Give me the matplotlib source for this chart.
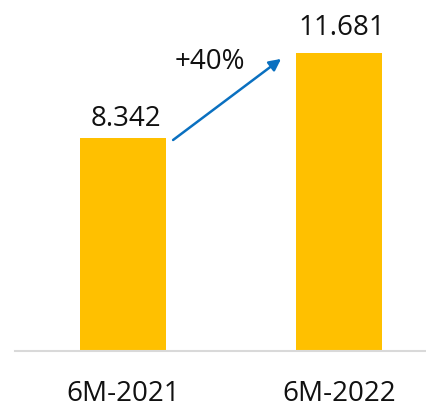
import matplotlib
matplotlib.use("Agg")
import matplotlib.pyplot as plt

# Data
periods = ["6M-2021", "6M-2022"]
values = [8.342, 11.681]
value_labels = ["8.342", "11.681"]

plt.rcParams["font.family"] = ["Open Sans", "DejaVu Sans"]

W, H, DPI = 426, 405, 100
fig = plt.figure(figsize=(W / DPI, H / DPI), dpi=DPI)
ax = fig.add_axes([15 / W, (H - 351) / H, 411 / W, 351 / H])

x = list(range(len(values)))
ax.bar(x, values, width=0.4, color="#FFC000", zorder=2)

ax.set_xlim(-0.5, 1.403)
ax.set_ylim(0, 13.76)

for s in ["top", "left", "right"]:
    ax.spines[s].set_visible(False)
ax.spines["bottom"].set_color("#D9D9D9")
ax.spines["bottom"].set_linewidth(1.5)
ax.set_yticks([])
ax.set_xticks(x)
ax.set_xticklabels(periods, fontsize=20, color="#111111")
ax.tick_params(axis="x", length=0, pad=21)

# Value labels above bars
offsets = [(2, 8.6), (2, 13)]
for xi, v, lab, off in zip(x, values, value_labels, offsets):
    ax.annotate(lab, (xi, v), xytext=off, textcoords="offset points",
                ha="center", va="baseline", fontsize=20, color="#111111")

# Growth arrow between the bars
growth = (values[1] / values[0] - 1) * 100
ax.annotate("", xy=(x[1] - 0.268, values[1] - 0.23),
            xytext=(x[0] + 0.232, values[0] - 0.07),
            arrowprops=dict(arrowstyle="-|>,head_length=0.7,head_width=0.35",
                            color="#0A70C0", lw=1.8, shrinkA=0, shrinkB=0))
ax.text(0.403, 11.05, f"+{growth:.0f}%", ha="center", va="baseline",
        fontsize=20, color="#111111")

fig.savefig("out.png", dpi=DPI)
